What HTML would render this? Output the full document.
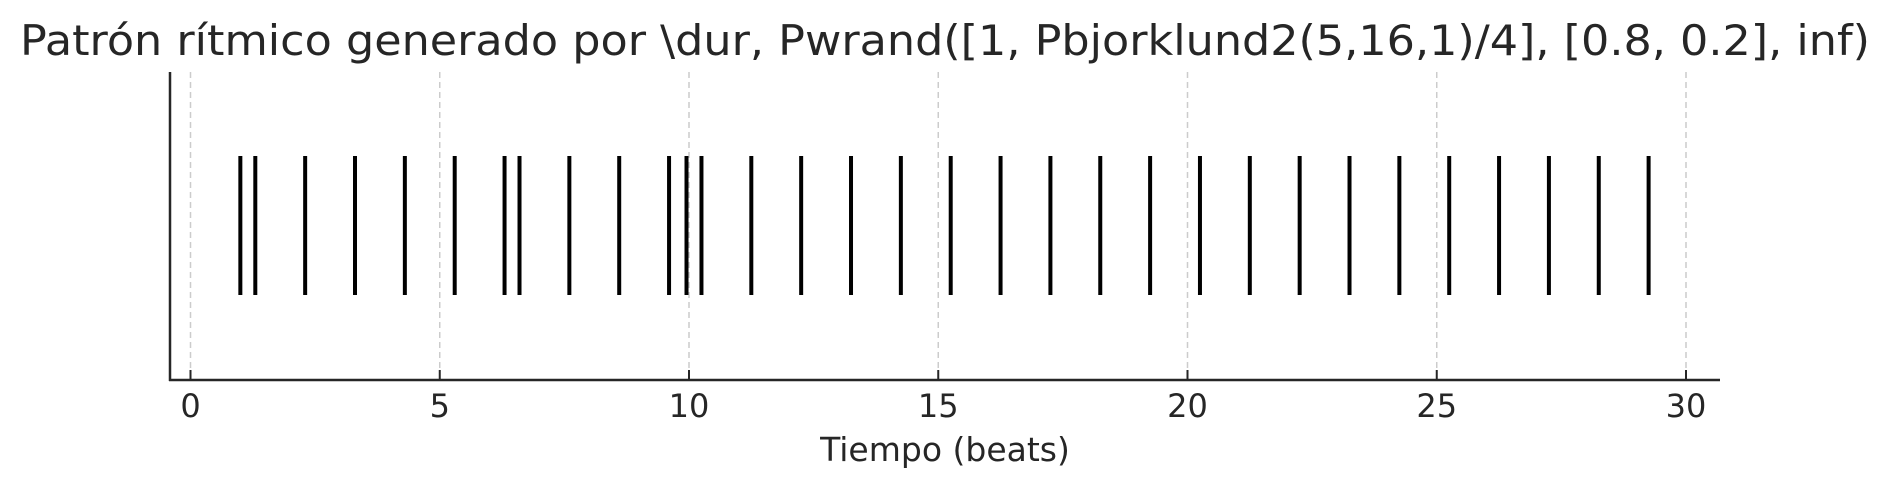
<!DOCTYPE html>
<html><head><meta charset="utf-8"><style>
html,body{margin:0;padding:0;background:#fff;}
svg{display:block;font-family:"DejaVu Sans","Liberation Sans",sans-serif;}
</style></head><body>
<svg id="chart" width="1890" height="487" viewBox="0 0 1890 487" xmlns="http://www.w3.org/2000/svg">
<text x="945" y="55" text-anchor="middle" font-size="42" fill="#262626" textLength="1850" lengthAdjust="spacingAndGlyphs">Patrón rítmico generado por \dur, Pwrand([1, Pbjorklund2(5,16,1)/4], [0.8, 0.2], inf)</text>
<g id="grid"></g>
<g id="events"></g>
<line x1="170" y1="72" x2="170" y2="381" stroke="#262626" stroke-width="2.5"/>
<line x1="169" y1="380" x2="1720" y2="380" stroke="#262626" stroke-width="2.5"/>
<g id="ticks"></g>
<text x="945" y="461" text-anchor="middle" font-size="33" fill="#262626">Tiempo (beats)</text>
</svg>
<script>
const onsets = [1, 1.3, 2.3, 3.3, 4.3, 5.3, 6.3, 6.6, 7.6, 8.6, 9.6, 9.95, 10.25, 11.25, 12.25, 13.25, 14.25, 15.25, 16.25, 17.25, 18.25, 19.25, 20.25, 21.25, 22.25, 23.25, 24.25, 25.25, 26.25, 27.25, 28.25, 29.25];
const tickValues = [0, 5, 10, 15, 20, 25, 30];
const tickLabels = ["0", "5", "10", "15", "20", "25", "30"];
const NS = "http://www.w3.org/2000/svg";
const x = v => 190.5 + (v - 0) * (1686 - 190.5) / 30;
const grid = document.getElementById('grid');
const ticks = document.getElementById('ticks');
const events = document.getElementById('events');
tickValues.forEach((t, i) => {
  const g = document.createElementNS(NS, 'line');
  
  
  g.setAttribute('x1', x(t)); g.setAttribute('x2', x(t));
  g.setAttribute('y1', 72); g.setAttribute('y2', 380);
  g.setAttribute('stroke', '#cccccc'); g.setAttribute('stroke-width', '1.5');
  g.setAttribute('stroke-dasharray', '6,4');
  grid.appendChild(g);
  const tk = document.createElementNS(NS, 'line');
  
  
  tk.setAttribute('x1', x(t)); tk.setAttribute('x2', x(t));
  tk.setAttribute('y1', 370); tk.setAttribute('y2', 380);
  tk.setAttribute('stroke', '#262626'); tk.setAttribute('stroke-width', '2');
  ticks.appendChild(tk);
  const lb = document.createElementNS(NS, 'text');
  
  
  lb.setAttribute('x', x(t)); lb.setAttribute('y', 417);
  lb.setAttribute('text-anchor', 'middle'); lb.setAttribute('font-size', '32');
  lb.setAttribute('fill', '#262626');
  lb.textContent = tickLabels[i];
  ticks.appendChild(lb);
});
onsets.forEach(v => {
  const l = document.createElementNS(NS, 'line');
  
  
  l.setAttribute('x1', x(v)); l.setAttribute('x2', x(v));
  l.setAttribute('y1', 156); l.setAttribute('y2', 295);
  l.setAttribute('stroke', '#000'); l.setAttribute('stroke-width', '4');
  events.appendChild(l);
});
</script>
</body></html>
